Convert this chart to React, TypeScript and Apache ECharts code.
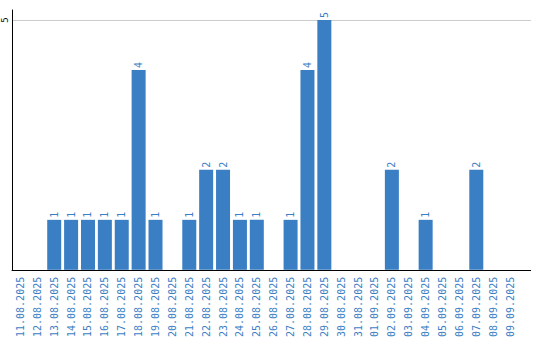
import React, { useEffect, useRef } from "react";
import * as echarts from "echarts";

const categories = [
  "11.08.2025", "12.08.2025", "13.08.2025", "14.08.2025", "15.08.2025",
  "16.08.2025", "17.08.2025", "18.08.2025", "19.08.2025", "20.08.2025",
  "21.08.2025", "22.08.2025", "23.08.2025", "24.08.2025", "25.08.2025",
  "26.08.2025", "27.08.2025", "28.08.2025", "29.08.2025", "30.08.2025",
  "31.08.2025", "01.09.2025", "02.09.2025", "03.09.2025", "04.09.2025",
  "05.09.2025", "06.09.2025", "07.09.2025", "08.09.2025", "09.09.2025",
];
const values = [
  0, 0, 1, 1, 1, 1, 1, 4, 1, 0,
  1, 2, 2, 1, 1, 0, 1, 4, 5, 0,
  0, 0, 2, 0, 1, 0, 0, 2, 0, 0,
];
const yTicks = [5];

const BLUE = "#3a7ec4";
const FONT = "'DejaVu Sans Mono', 'Liberation Mono', monospace";

export default function App() {
  const ref = useRef<HTMLDivElement>(null);
  useEffect(() => {
    if (!ref.current) return;
    const chart = echarts.init(ref.current, undefined, { renderer: "svg" });
    chart.setOption({
      animation: false,
      grid: { left: 8.5, top: 10, width: 510, bottom: 70, containLabel: false },
      xAxis: {
        type: "category",
        data: categories,
        axisLine: { lineStyle: { color: "#000", width: 1 } },
        axisTick: { show: false },
        axisLabel: {
          rotate: 90,
          interval: 0,
          color: BLUE,
          fontSize: 10,
          fontFamily: FONT,
          margin: 7,
        },
      },
      yAxis: {
        type: "value",
        min: 0,
        max: 5.2,
        interval: 5,
        axisLine: { show: true, lineStyle: { color: "#000", width: 1 } },
        axisTick: { show: false },
        axisLabel: {
          rotate: 90,
          color: "#000",
          fontSize: 9,
          fontFamily: FONT,
          margin: 3,
          showMinLabel: false,
          showMaxLabel: false,
          formatter: (v: number) => (yTicks.includes(v) ? String(v) : ""),
        },
        splitLine: {
          show: true,
          showMinLine: false,
          showMaxLine: false,
          lineStyle: { color: "#cccccc", width: 1 },
        },
      },
      graphic: [
        {
          type: "line",
          shape: { x1: 518, y1: 270.5, x2: 531, y2: 270.5 },
          style: { stroke: "#000", lineWidth: 1 },
          silent: true,
        },
        {
          type: "line",
          shape: { x1: 518, y1: 20.5, x2: 531, y2: 20.5 },
          style: { stroke: "#cccccc", lineWidth: 1 },
          silent: true,
        },
      ],
      series: [
        {
          type: "bar",
          data: values.map((v) => (v === 0 ? null : v)),
          barWidth: 14,
          itemStyle: { color: BLUE },
          label: {
            show: true,
            position: "top",
            rotate: 90,
            align: "left",
            verticalAlign: "middle",
            distance: 2,
            color: BLUE,
            fontSize: 10,
            fontFamily: FONT,
          },
        },
      ],
    });
    return () => chart.dispose();
  }, []);
  return <div ref={ref} style={{ width: 540, height: 340, position: "absolute", left: 0, top: 0 }} />;
}
